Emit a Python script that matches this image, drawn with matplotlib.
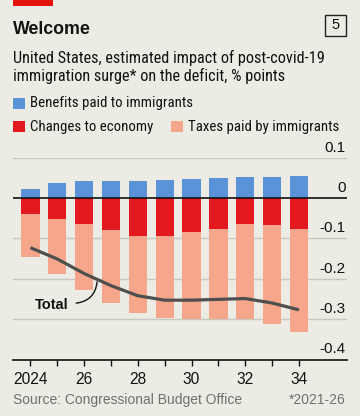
import matplotlib
matplotlib.use("Agg")
import matplotlib.pyplot as plt
from matplotlib.patches import Rectangle

# ---- data ----
years = list(range(2024, 2035))
benefits = [0.023, 0.037, 0.042, 0.043, 0.043, 0.045, 0.047, 0.049, 0.051, 0.053, 0.055]
economy = [-0.040, -0.052, -0.064, -0.080, -0.094, -0.093, -0.083, -0.076, -0.065, -0.067, -0.077]
taxes = [-0.106, -0.136, -0.165, -0.180, -0.191, -0.205, -0.217, -0.224, -0.235, -0.246, -0.255]
total = [-0.123, -0.151, -0.187, -0.217, -0.242, -0.253, -0.253, -0.251, -0.249, -0.260, -0.277]
xtick_years = [2024, 2026, 2028, 2030, 2032, 2034]
xtick_labels = ["2024", "26", "28", "30", "32", "34"]
yticks = [0.1, 0, -0.1, -0.2, -0.3, -0.4]
ytick_labels = ["0.1", "0", "-0.1", "-0.2", "-0.3", "-0.4"]
legend_labels = ["Benefits paid to immigrants", "Changes to economy", "Taxes paid by immigrants"]

BG = "#ecebe4"
BLUE = "#5b93d8"
RED = "#e3191f"
SALMON = "#f6a68b"
LINE = "#4f4f4f"
GRID = "#c9c8c0"
NARROW = ["Roboto Condensed", "Roboto", "DejaVu Sans"]
REG = ["Liberation Sans", "DejaVu Sans"]

W, H = 360, 416
fig = plt.figure(figsize=(W / 100, H / 100), dpi=100, facecolor=BG)


def fx(px):
    return px / W


def fy(py):
    return 1 - py / H


# top red tag
fig.patches.append(Rectangle((fx(13), fy(5.5)), fx(40), 5.5 / H, transform=fig.transFigure,
                             facecolor="#e3120b", edgecolor="none"))
fig.text(fx(13), fy(34), "Welcome", fontsize=12.8, fontweight="bold", family=REG,
         va="baseline", ha="left", color="#121212")
# box with number
fig.patches.append(Rectangle((fx(324.5), fy(36)), fx(21.5), 21.5 / H, transform=fig.transFigure,
                             facecolor="none", edgecolor="#222222", lw=1))
fig.text(fx(335.3), fy(25.3), "5", fontsize=10.5, family=REG, ha="center", va="center", color="#121212")

fig.text(fx(13), fy(63.5), "United States, estimated impact of post-covid-19", fontsize=11.7,
         family=NARROW, va="baseline", ha="left", color="#121212")
fig.text(fx(13), fy(81), "immigration surge* on the deficit, % points", fontsize=11.7,
         family=NARROW, va="baseline", ha="left", color="#121212")

# legend
leg = [(13, 98, BLUE, legend_labels[0]), (13, 121, RED, legend_labels[1]), (171, 121, SALMON, legend_labels[2])]
for x0, y0, c, lab in leg:
    fig.patches.append(Rectangle((fx(x0), fy(y0 + 11)), fx(12), 11 / H, transform=fig.transFigure,
                                 facecolor=c, edgecolor="none"))
    fig.text(fx(x0 + 16.5), fy(y0 + 5.5), lab, fontsize=10.7, family=NARROW,
             va="center", ha="left", color="#121212")

# axes
ax = fig.add_axes([fx(13), fy(359.5), fx(334), 201.8 / H])
ax.set_facecolor(BG)
ax.set_xlim(2023.35, 2035.79)
ax.set_ylim(-0.4, 0.1)
for s in ["top", "left", "right"]:
    ax.spines[s].set_visible(False)
ax.spines["bottom"].set_color("#111111")
ax.spines["bottom"].set_linewidth(1.2)
ax.set_yticks([])

for v in yticks:
    if v not in (0, -0.4):
        ax.axhline(v, color=GRID, lw=1, zorder=0)

bw = 0.68
ax.bar(years, benefits, width=bw, color=BLUE, zorder=2)
ax.bar(years, economy, width=bw, color=RED, zorder=2)
ax.bar(years, taxes, width=bw, bottom=economy, color=SALMON, zorder=2)
ax.axhline(0, color="#111111", lw=1.2, zorder=3)

ax.plot(years, total, color=LINE, lw=2.3, zorder=4, solid_capstyle="butt")

for v, lab in zip(yticks, ytick_labels):
    ax.annotate(lab, xy=(1.0, v), xycoords=("axes fraction", "data"), xytext=(-1, 2.2),
                textcoords="offset points", ha="right", va="bottom", fontsize=11, family=REG,
                color="#121212")

ax.set_xticks(years)
ax.set_xticklabels([xtick_labels[xtick_years.index(y)] if y in xtick_years else "" for y in years],
                   fontsize=11.2, family=REG, color="#121212")
ax.tick_params(axis="x", direction="out", length=4.5, width=1, color="#111111", pad=4.5)

# Total label
ax.text(2025.42, -0.265, "Total", ha="right", va="center", fontsize=10.5, fontweight="bold",
        family=REG, color="#121212")
ax.annotate("", xy=(2026.49, -0.201), xytext=(2025.6, -0.261),
            arrowprops=dict(arrowstyle="-", connectionstyle="arc3,rad=0.45", color="#121212", lw=1))

fig.text(fx(13), fy(400), "Source: Congressional Budget Office", fontsize=10, family=REG,
         va="center", ha="left", color="#707070")
fig.text(fx(346), fy(400), "*2021-26", fontsize=10, family=REG, va="center", ha="right",
         color="#707070")

fig.savefig("out.png", dpi=100, facecolor=BG)
